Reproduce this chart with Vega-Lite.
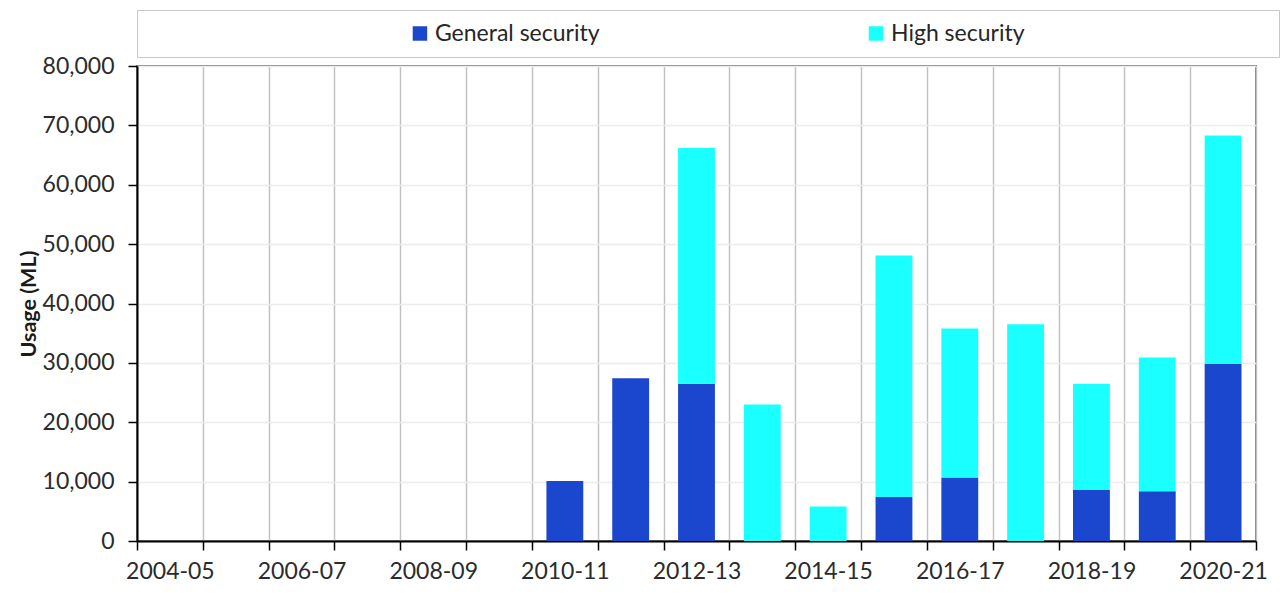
{
  "$schema": "https://vega.github.io/schema/vega-lite/v6.json",
  "background": "white",
  "padding": {"left": 17, "top": 9, "right": 2, "bottom": 5},
  "spacing": 9,
  "bounds": "flush",
  "config": {
    "font": "Lato",
    "view": {"stroke": null},
    "axis": {
      "labelFont": "Lato",
      "labelFontSize": 23,
      "labelColor": "#2b2b2b",
      "titleFont": "Lato",
      "titleColor": "#1a1a1a",
      "domainColor": "#000000",
      "domainWidth": 2,
      "tickColor": "#000000",
      "tickWidth": 1.5,
      "tickSize": 9
    }
  },
  "datasets": {
    "usage": [
      {"year": "2010-11", "series": "General security", "value": 10100},
      {"year": "2011-12", "series": "General security", "value": 27400},
      {"year": "2012-13", "series": "General security", "value": 26500},
      {"year": "2012-13", "series": "High security", "value": 39700},
      {"year": "2013-14", "series": "High security", "value": 23000},
      {"year": "2014-15", "series": "High security", "value": 5800},
      {"year": "2015-16", "series": "General security", "value": 7400},
      {"year": "2015-16", "series": "High security", "value": 40700},
      {"year": "2016-17", "series": "General security", "value": 10700},
      {"year": "2016-17", "series": "High security", "value": 25100},
      {"year": "2017-18", "series": "High security", "value": 36500},
      {"year": "2018-19", "series": "General security", "value": 8600},
      {"year": "2018-19", "series": "High security", "value": 17900},
      {"year": "2019-20", "series": "General security", "value": 8400},
      {"year": "2019-20", "series": "High security", "value": 22500},
      {"year": "2020-21", "series": "General security", "value": 29800},
      {"year": "2020-21", "series": "High security", "value": 38500}
    ],
    "legend": [
      {"series": "General security"},
      {"series": "High security"}
    ]
  },
  "vconcat": [
    {
      "width": 1142,
      "height": 47,
      "data": {"name": "legend"},
      "view": {"stroke": "#c9c9c9", "strokeWidth": 1},
      "encoding": {
        "x": {
          "field": "series",
          "type": "nominal",
          "scale": {"type": "point", "padding": 0.752, "align": 0.4125},
          "axis": null
        }
      },
      "layer": [
        {
          "mark": {"type": "square", "size": 210, "opacity": 1, "filled": true},
          "encoding": {
            "color": {
              "field": "series",
              "type": "nominal",
              "scale": {"domain": ["General security", "High security"], "range": ["#1b47cf", "#1affff"]},
              "legend": null
            }
          }
        },
        {
          "mark": {"type": "text", "align": "left", "dx": 15, "fontSize": 23, "color": "#262626", "font": "Lato"},
          "encoding": {"text": {"field": "series"}}
        }
      ]
    },
    {
      "width": 1119,
      "height": 475,
      "data": {"name": "usage"},
      "view": {"stroke": "#808080", "strokeWidth": 2},
      "mark": {"type": "bar", "width": {"band": 0.56}},
      "encoding": {
        "x": {
          "field": "year",
          "type": "ordinal",
          "title": null,
          "scale": {
            "domain": ["2004-05", "2005-06", "2006-07", "2007-08", "2008-09", "2009-10", "2010-11", "2011-12", "2012-13", "2013-14", "2014-15", "2015-16", "2016-17", "2017-18", "2018-19", "2019-20", "2020-21"],
            "paddingInner": 0,
            "paddingOuter": 0
          },
          "axis": {
            "tickBand": "extent",
            "grid": true,
            "gridColor": "#c2c2c2",
            "gridWidth": 1.5,
            "labelAngle": 0,
            "labelPadding": 10,
            "labelExpr": "toNumber(substring(datum.value, 0, 4)) % 2 == 0 ? datum.value : ''"
          }
        },
        "y": {
          "field": "value",
          "type": "quantitative",
          "stack": "zero",
          "title": "Usage (ML)",
          "scale": {"domain": [0, 80000]},
          "axis": {
            "values": [0, 10000, 20000, 30000, 40000, 50000, 60000, 70000, 80000],
            "format": ",.0f",
            "labelFlush": false,
            "gridColor": "#ececec",
            "gridWidth": 1.5,
            "labelPadding": 14,
            "titleFontSize": 21.5,
            "titleFontWeight": "bold",
            "titlePadding": 2
          }
        },
        "color": {
          "field": "series",
          "type": "nominal",
          "scale": {"domain": ["General security", "High security"], "range": ["#1b47cf", "#1affff"]},
          "legend": null
        },
        "order": {"field": "series", "sort": "ascending"}
      }
    }
  ]
}
